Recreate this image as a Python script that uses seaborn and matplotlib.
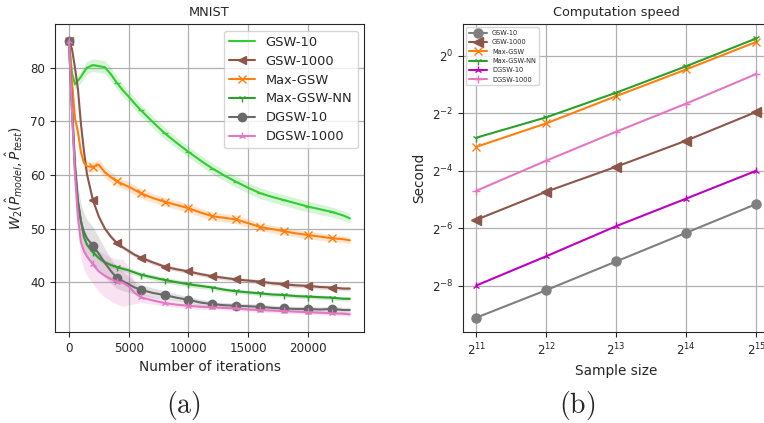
import numpy as np
import matplotlib
matplotlib.use('Agg')
import matplotlib.pyplot as plt
from matplotlib.ticker import LogFormatterSciNotation, NullLocator
import seaborn as sns

# ---- (a) MNIST: W2 vs iterations ----
iters = [0, 250, 500, 750, 1000, 1250, 1500, 2000, 2500, 3000, 3500, 4000, 4500, 5000, 5500, 6000,
         7000, 8000, 9000, 10000, 11000, 12000, 13000, 14000, 15000, 16000, 17000, 18000, 19000,
         20000, 21000, 22000, 23000, 23500]

gsw10 = [85, 79, 76.9, 77.6, 78.3, 79.2, 80.0, 80.5, 80.3, 80.1, 78.8, 77.2, 75.8, 74.6, 73.3, 72.1,
         69.9, 67.8, 66.0, 64.3, 62.7, 61.2, 59.9, 58.7, 57.6, 56.6, 55.9, 55.3, 54.7,
         54.1, 53.6, 53.1, 52.4, 51.9]
gsw1000 = [85, 83.5, 80.0, 76.0, 69.5, 64.5, 60.2, 55.3, 52.2, 50.0, 48.5, 47.3, 46.5, 45.8, 45.1, 44.6,
           43.7, 42.9, 42.4, 42.0, 41.5, 41.1, 40.8, 40.5, 40.3, 40.1, 39.8, 39.6, 39.4,
           39.3, 39.1, 39.0, 38.8, 38.8]
maxgsw = [85, 77.5, 70.5, 68.0, 64.2, 62.3, 61.6, 61.5, 61.9, 60.5, 59.6, 58.8, 58.3, 57.8, 57.2, 56.6,
          55.7, 55.0, 54.4, 53.8, 53.0, 52.3, 52.0, 51.7, 51.0, 50.3, 49.9, 49.5, 49.1,
          48.8, 48.5, 48.2, 48.0, 47.8]
maxgswnn = [85, 72, 61, 55, 51.5, 48.4, 47.0, 45.6, 44.5, 43.7, 43.2, 42.8, 42.5, 42.2, 41.8, 41.4,
            40.9, 40.4, 40.0, 39.6, 39.3, 39.0, 38.6, 38.3, 38.1, 37.9, 37.7, 37.6, 37.4,
            37.3, 37.2, 37.1, 36.9, 36.9]
dgsw10 = [85, 73, 62, 55, 51.3, 49.4, 48.2, 46.8, 45.3, 43.6, 42.1, 40.8, 40.2, 39.6, 39.0, 38.6,
          38.0, 37.6, 37.1, 36.7, 36.2, 35.9, 35.7, 35.6, 35.5, 35.4, 35.2, 35.1, 35.0,
          35.0, 34.9, 35.0, 34.8, 34.8]
dgsw1000 = [85, 72, 60, 52, 47.5, 45.8, 44.8, 43.3, 42.0, 41.2, 40.6, 40.1, 39.9, 39.2, 38.0, 37.2,
            36.6, 36.1, 35.8, 35.6, 35.4, 35.3, 35.2, 35.1, 34.9, 34.8, 34.7, 34.6, 34.5,
            34.4, 34.3, 34.2, 34.1, 34.0]

# half widths of the shaded bands
gsw10_sd = [0.3, 0.8, 1.0, 1.0, 1.1, 1.2, 1.2, 1.2, 1.2, 1.2, 1.2, 1.2, 1.1, 1.1, 1.1, 1.1,
            1.1, 1.1, 1.0, 1.0, 1.0, 1.0, 1.0, 1.0, 1.0, 1.0, 1.0, 1.0, 1.0, 1.0, 1.0, 0.9, 0.9, 0.9]
gsw1000_sd = [0.2] * 7 + [0.4] * 27
maxgsw_sd = [0.3, 0.8, 1.0, 1.0, 1.0, 1.0, 1.0, 1.0, 1.0, 1.0, 1.0, 0.9, 0.9, 0.9, 0.9, 0.9,
             0.8, 0.8, 0.8, 0.8, 0.8, 0.8, 0.8, 0.8, 0.8, 0.7, 0.7, 0.7, 0.7, 0.7, 0.7, 0.6, 0.6, 0.6]
maxgswnn_sd = [0.2, 1.0, 1.0, 0.8, 0.6, 0.5, 0.5, 0.5, 0.5, 0.5, 0.5, 0.5, 0.5, 0.5, 0.5, 0.5,
               0.5, 0.5, 0.5, 0.5, 0.5, 0.4, 0.4, 0.4, 0.4, 0.4, 0.4, 0.4, 0.4, 0.4, 0.4, 0.4, 0.4, 0.4]
dgsw10_sd = [0.2, 2.0, 3.0, 3.0, 3.2, 3.5, 3.5, 3.5, 3.0, 2.7, 2.3, 2.0, 1.8, 1.5, 1.2, 1.0,
             0.9, 0.8, 0.7, 0.6, 0.6, 0.5, 0.5, 0.5, 0.5, 0.5, 0.5, 0.5, 0.5, 0.5, 0.5, 0.5, 0.5, 0.5]
dgsw1000_sd = [0.2, 2.0, 3.0, 3.0, 3.2, 3.5, 3.6, 3.6, 3.8, 4.0, 4.1, 4.2, 4.4, 3.5, 2.0, 1.0,
               0.7, 0.6, 0.5, 0.5, 0.5, 0.4, 0.4, 0.4, 0.4, 0.4, 0.4, 0.4, 0.4, 0.4, 0.4, 0.4, 0.4, 0.4]

# ---- (b) computation speed ----
sizes = [2**11, 2**12, 2**13, 2**14, 2**15]
t_gsw10 = [0.001797, 0.003496, 0.006993, 0.01399, 0.02797]
t_gsw1000 = [0.01910, 0.03768, 0.06887, 0.1294, 0.2588]
t_maxgsw = [0.1111, 0.1961, 0.3789, 0.7220, 1.4044]
t_maxgswnn = [0.1387, 0.2269, 0.4118, 0.7792, 1.5263]
t_dgsw10 = [0.003906, 0.007922, 0.01640, 0.03190, 0.0625]
t_dgsw1000 = [0.03847, 0.07966, 0.1604, 0.3164, 0.6462]

sns.set_style('ticks')
plt.rcParams['font.family'] = ['DejaVu Sans']

fig = plt.figure(figsize=(7.64, 4.23), dpi=100)
ax1 = fig.add_axes([0.072, 0.2151, 0.4045, 0.728])
ax2 = fig.add_axes([0.6056, 0.2151, 0.4022, 0.728])

x = np.array(iters)
marks = [i for i, v in enumerate(iters) if v % 2000 == 0]

left = [
    ('GSW-10', gsw10, gsw10_sd, 'limegreen', '_', 5),
    ('GSW-1000', gsw1000, gsw1000_sd, 'tab:brown', '<', 6),
    ('Max-GSW', maxgsw, maxgsw_sd, 'tab:orange', 'x', 6),
    ('Max-GSW-NN', maxgswnn, maxgswnn_sd, 'tab:green', '1', 6),
    ('DGSW-10', dgsw10, dgsw10_sd, 'dimgray', 'o', 6),
    ('DGSW-1000', dgsw1000, dgsw1000_sd, 'tab:pink', '2', 6),
]
for name, y, sd, c, m, ms in left:
    y = np.array(y)
    sd = np.array(sd)
    ax1.fill_between(x, y - sd, y + sd, color=c, alpha=0.2, lw=0)
    sns.lineplot(x=x, y=y, ax=ax1, color=c, marker=m, markersize=ms, markevery=marks,
                 markeredgecolor=c, markeredgewidth=1.0, lw=1.5, label=name)

ax1.set_xlim(-1170, 24690)
ax1.set_ylim(30.7, 88.15)
ax1.set_xticks([0, 5000, 10000, 15000, 20000])
ax1.set_yticks([40, 50, 60, 70, 80])
ax1.grid(True, color='#b0b0b0', lw=0.9)
ax1.set_title('MNIST', fontsize=9.3)
ax1.set_xlabel('Number of iterations', fontsize=9.8)
ax1.set_ylabel(r'$W_2(\hat{P}_{model}, \hat{P}_{test})$', fontsize=9.8)
ax1.tick_params(labelsize=8.6)
ax1.legend(loc='upper right', fontsize=9.4, framealpha=0.8, labelspacing=0.45)

right = [
    ('GSW-10', t_gsw10, 'tab:gray', 'o', 6.5),
    ('GSW-1000', t_gsw1000, 'tab:brown', '<', 6.5),
    ('Max-GSW', t_maxgsw, 'tab:orange', 'x', 6),
    ('Max-GSW-NN', t_maxgswnn, 'tab:green', '1', 6),
    ('DGSW-10', t_dgsw10, 'm', '2', 6),
    ('DGSW-1000', t_dgsw1000, 'tab:pink', '+', 6),
]
for name, t, c, m, ms in right:
    sns.lineplot(x=sizes, y=t, ax=ax2, color=c, marker=m, markersize=ms,
                 markeredgecolor=c, markeredgewidth=1.0, lw=1.5, label=name)

ax2.set_xscale('log', base=2)
ax2.set_yscale('log', base=2)
ax2.set_xlim(2**10.806, 2**15.194)
ax2.set_ylim(2**-9.62, 2**1.108)
ax2.set_xticks(sizes)
ax2.set_yticks([2**0, 2**-2, 2**-4, 2**-6, 2**-8])
ax2.xaxis.set_major_formatter(LogFormatterSciNotation(base=2))
ax2.yaxis.set_major_formatter(LogFormatterSciNotation(base=2))
ax2.xaxis.set_minor_locator(NullLocator())
ax2.yaxis.set_minor_locator(NullLocator())
ax2.grid(True, color='#b0b0b0', lw=0.9)
ax2.set_title('Computation speed', fontsize=9.3)
ax2.set_xlabel('Sample size', fontsize=9.8)
ax2.set_ylabel('Second', fontsize=9.8)
ax2.tick_params(labelsize=8.6)
ax2.legend(loc='upper left', fontsize=4.8, handlelength=2.7, framealpha=0.8)

fig.text(183 / 764, 1 - 405 / 423, r'$\mathrm{(a)}$', fontsize=20, ha='center', va='center',
         math_fontfamily='cm')
fig.text(577 / 764, 1 - 405 / 423, r'$\mathrm{(b)}$', fontsize=20, ha='center', va='center',
         math_fontfamily='cm')

fig.savefig('out.png', dpi=100)
